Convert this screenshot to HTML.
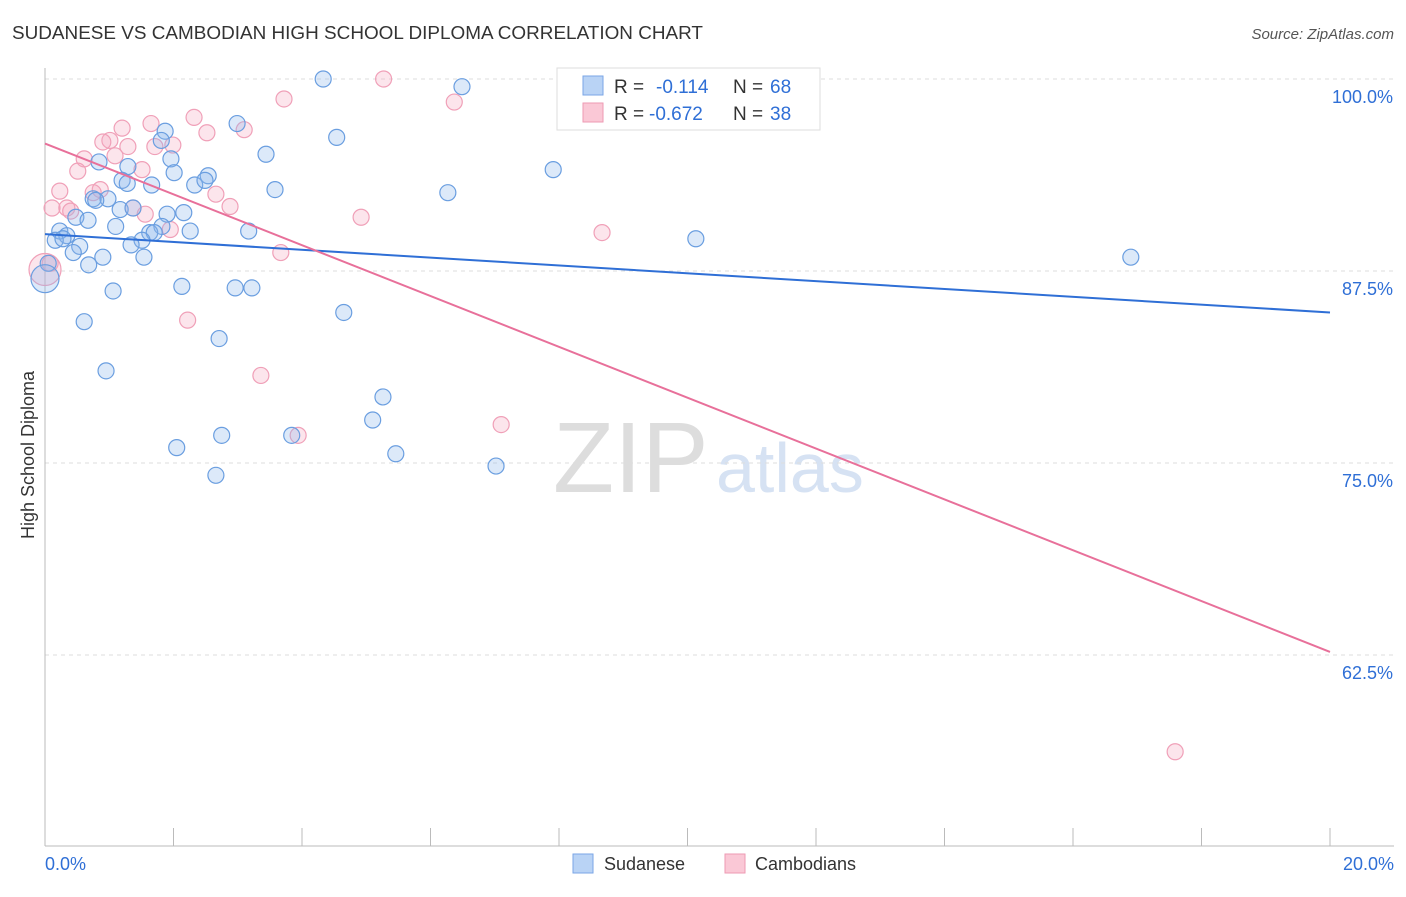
<!DOCTYPE html>
<html><head><meta charset="utf-8"><style>
body{margin:0;background:#fff;font-family:"Liberation Sans",sans-serif}
svg text{font-family:"Liberation Sans",sans-serif}
</style></head><body>
<svg id="c" width="1406" height="892">
<text x="12" y="39" font-size="18" fill="#333" textLength="691" lengthAdjust="spacingAndGlyphs">SUDANESE VS CAMBODIAN HIGH SCHOOL DIPLOMA CORRELATION CHART</text>
<text x="1394" y="39" font-size="15" fill="#555" text-anchor="end" font-style="italic">Source: ZipAtlas.com</text>
<text x="34" y="455" font-size="18" fill="#333" transform="rotate(-90 34 455)" text-anchor="middle">High School Diploma</text>
<text x="553" y="492" font-size="100" fill="#ddd" font-family="Liberation Serif">ZIP</text>
<text x="716" y="492" font-size="70" fill="#d6e2f3">atlas</text>
<g id="grid"></g><g id="pts"></g><g id="lines"></g>
<g>
<rect x="557" y="68" width="263" height="62" fill="#fff" stroke="#ddd"/>
<rect x="583" y="76" width="20" height="19" fill="#b9d3f5" stroke="#7aa6e6"/>
<rect x="583" y="103" width="20" height="19" fill="#fac8d6" stroke="#ee9ab3"/>
<text x="614" y="93" font-size="19" fill="#333">R =</text>
<text x="656" y="93" font-size="19" fill="#2f6fd6">-0.114</text>
<text x="733" y="93" font-size="19" fill="#333">N =</text>
<text x="770" y="93" font-size="19" fill="#2f6fd6">68</text>
<text x="614" y="120" font-size="19" fill="#333">R =</text>
<text x="649" y="120" font-size="19" fill="#2f6fd6">-0.672</text>
<text x="733" y="120" font-size="19" fill="#333">N =</text>
<text x="770" y="120" font-size="19" fill="#2f6fd6">38</text>
</g>
<g>
<rect x="573" y="854" width="20" height="19" fill="#b9d3f5" stroke="#7aa6e6"/>
<text x="604" y="870" font-size="18" fill="#333">Sudanese</text>
<rect x="725" y="854" width="20" height="19" fill="#fac8d6" stroke="#ee9ab3"/>
<text x="755" y="870" font-size="18" fill="#333">Cambodians</text>
</g>
</svg>
<script>
const xTicks=[0,20];
const yTicks=[100,87.5,75,62.5];
const sudX=[4.33,6.49,2.99,1.87,4.54,1.81,3.44,1.96,0.84,1.29,7.91,2.01,2.54,1.20,1.28,1.66,2.33,2.49,3.58,6.27,0.75,0.98,0.79,1.17,1.37,2.16,1.90,0.48,0.67,1.10,1.82,1.63,1.70,2.26,3.17,0.23,0.34,0.16,0.28,1.51,1.34,0.54,0.44,0.90,0.68,1.54,10.13,16.90,0.05,0.0,2.13,1.06,2.96,3.22,0.61,4.65,2.71,0.95,5.26,5.10,2.75,3.84,2.05,5.46,2.66,7.02];
const sudY=[100,99.5,97.1,96.6,96.2,96.0,95.1,94.8,94.6,94.3,94.1,93.9,93.7,93.4,93.2,93.1,93.1,93.4,92.8,92.6,92.2,92.2,92.1,91.5,91.6,91.3,91.2,91.0,90.8,90.4,90.4,90.0,90.0,90.1,90.1,90.1,89.8,89.5,89.6,89.5,89.2,89.1,88.7,88.4,87.9,88.4,89.6,88.4,88.0,87.0,86.5,86.2,86.4,86.4,84.2,84.8,83.1,81.0,79.3,77.8,76.8,76.8,76.0,75.6,74.2,74.8];
const camX=[5.27,3.72,6.37,2.32,1.65,1.20,3.10,2.52,1.01,0.90,1.29,1.99,1.71,1.09,0.61,1.51,0.51,0.23,0.86,0.75,2.66,0.11,0.34,1.37,2.88,0.40,1.56,4.92,1.95,8.67,3.67,0.08,2.22,3.36,3.94,7.10,17.59,0.0];
const camY=[100,98.7,98.5,97.5,97.1,96.8,96.7,96.5,96.0,95.9,95.6,95.7,95.6,95.0,94.8,94.1,94.0,92.7,92.8,92.6,92.5,91.6,91.6,91.6,91.7,91.4,91.2,91.0,90.2,90.0,88.7,88.0,84.3,80.7,76.8,77.5,56.2,87.6];
const sudLine=[89.9,84.8];
const camLine=[95.8,62.7];
const X=v=>45+v/20*1285, Y=v=>79+(100-v)/12.5*192;
const NS='http://www.w3.org/2000/svg';
function mk(t,a,p){const e=document.createElementNS(NS,t);for(const k in a)e.setAttribute(k,a[k]);p.appendChild(e);return e;}
const grid=document.getElementById('grid');
yTicks.forEach(v=>{
 const l=mk('line',{x1:45,x2:1394,y1:Y(v),y2:Y(v),stroke:'#ddd','stroke-dasharray':'4 4'},grid);
 
 
 const t=mk('text',{x:1393,y:Y(v)+24,'font-size':18,fill:'#2f6fd6','text-anchor':'end'},grid);
 t.textContent=v.toFixed(1)+'%';
 
 
});
mk('line',{x1:45,x2:45,y1:68,y2:846,stroke:'#bbb'},grid);
mk('line',{x1:45,x2:1394,y1:846,y2:846,stroke:'#bbb'},grid);
for(let i=0;i<=10;i++){const x=X(i*2);mk('line',{x1:x,x2:x,y1:828,y2:846,stroke:'#bbb'},grid);}
xTicks.forEach((v,i)=>{
 const t=mk('text',{x:i?1394:45,y:870,'font-size':18,fill:'#2f6fd6','text-anchor':i?'end':'start'},grid);
 t.textContent=v.toFixed(1)+'%';
 
 
});
const pts=document.getElementById('pts');
camX.forEach((v,i)=>{
 const c=mk('circle',{cx:X(v),cy:Y(camY[i]),r:i==camX.length-1?16:8,fill:'rgba(246,168,192,0.3)',stroke:'#f0a0b8','stroke-width':1.2},pts);
 
 
});
sudX.forEach((v,i)=>{
 const c=mk('circle',{cx:X(v),cy:Y(sudY[i]),r:i==49?14:8,fill:'rgba(140,182,236,0.3)',stroke:'#6a9ee0','stroke-width':1.2},pts);
 
 
});
const ln=document.getElementById('lines');
const a=mk('line',{x1:X(0),y1:Y(sudLine[0]),x2:X(20),y2:Y(sudLine[1]),stroke:'#2f6fd6','stroke-width':2},ln);


const b=mk('line',{x1:X(0),y1:Y(camLine[0]),x2:X(20),y2:Y(camLine[1]),stroke:'#e8709a','stroke-width':2},ln);


</script>
</body></html>
